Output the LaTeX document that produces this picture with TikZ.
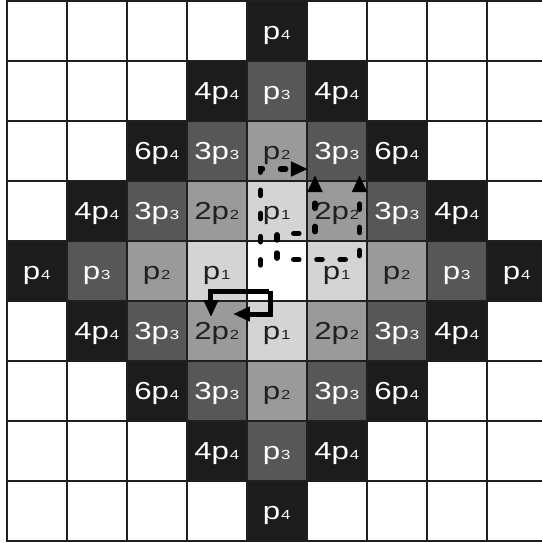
\documentclass[tikz,border=0pt]{standalone}
\usepackage{fontspec}
\setmainfont{Liberation Sans}
\usetikzlibrary{arrows.meta}
\definecolor{gridc}{HTML}{231F20}
\definecolor{cfour}{HTML}{1C1C1C}
\definecolor{cthree}{HTML}{575757}
\definecolor{ctwo}{HTML}{9A9A9A}
\definecolor{cone}{HTML}{D4D4D4}
\newcommand\lbl[2]{\scalebox{1.27}[1]{#1p\kern0.3pt{\fontsize{6.6}{6.6}\selectfont #2}}}
\begin{document}
\begin{tikzpicture}[x=0.5pt,y=-0.5pt,
  cell/.style={draw=gridc,line width=1.1pt,minimum size=30pt,inner sep=0pt,
    font=\fontsize{12.3}{12.3}\selectfont,text height=8.8pt,text depth=0pt},
  blank/.style={cell,fill=white},
  dfour/.style={cell,fill=cfour,text=white},
  dthree/.style={cell,fill=cthree,text=white},
  dtwo/.style={cell,fill=ctwo,text=gridc},
  done/.style={cell,fill=cone,text=gridc},
  tip/.style={-{Triangle[length=8.5pt,width=7pt]}},
  dashpath/.style={tip,line width=2.7pt,line cap=round,dash pattern=on 2.6pt off 9pt},
  solidpath/.style={tip,line width=2.5pt}]
\useasboundingbox (0,0) rectangle (542,543);
\begin{scope}
\clip (0,0) rectangle (542,543);
% white grid
\foreach \i in {0,...,8}{
  \foreach \j in {0,...,8}{
    \node[blank] (w\i-\j) at (36.7+60*\i,30.7+60*\j) {};
  }
}
% shaded cells
\foreach \i/\j/\s/\c/\n in {
  4/0/dfour//4,
  3/1/dfour/4/4, 4/1/dthree//3, 5/1/dfour/4/4,
  2/2/dfour/6/4, 3/2/dthree/3/3, 4/2/dtwo//2, 5/2/dthree/3/3, 6/2/dfour/6/4,
  1/3/dfour/4/4, 2/3/dthree/3/3, 3/3/dtwo/2/2, 4/3/done//1, 5/3/dtwo/2/2, 6/3/dthree/3/3, 7/3/dfour/4/4,
  0/4/dfour//4, 1/4/dthree//3, 2/4/dtwo//2, 3/4/done//1, 5/4/done//1, 6/4/dtwo//2, 7/4/dthree//3, 8/4/dfour//4,
  1/5/dfour/4/4, 2/5/dthree/3/3, 3/5/dtwo/2/2, 4/5/done//1, 5/5/dtwo/2/2, 6/5/dthree/3/3, 7/5/dfour/4/4,
  2/6/dfour/6/4, 3/6/dthree/3/3, 4/6/dtwo//2, 5/6/dthree/3/3, 6/6/dfour/6/4,
  3/7/dfour/4/4, 4/7/dthree//3, 5/7/dfour/4/4,
  4/8/dfour//4}{
  \node[\s] (c\i-\j) at (36.7+60*\i,30.7+60*\j) {\lbl{\c}{\n}};
}
\end{scope}
% path points
\coordinate (a0) at (260.5,265);
\coordinate (a1) at (260.5,169);
\coordinate (a2) at (308,169);
\coordinate (b0) at (277,240);
\coordinate (b1) at (277,233.5);
\coordinate (b2) at (315,233.5);
\coordinate (b3) at (315,175);
\coordinate (e0) at (277,253);
\coordinate (e1) at (277,259.5);
\coordinate (e2) at (359.5,259.5);
\coordinate (e3) at (359.5,175);
\coordinate (s0) at (269,291.5);
\coordinate (s1) at (211,291.5);
\coordinate (s2) at (211,317);
\coordinate (t0) at (270.5,290.5);
\coordinate (t1) at (270.5,314);
\coordinate (t2) at (233,314);
\draw[dashpath] (a0) -- (a1) -- (a2);
\draw[dashpath] (b0) -- (b1) -- (b2) -- (b3);
\draw[dashpath] (e0) -- (e1) -- (e2) -- (e3);
\draw[solidpath] (s0) -- (s1) -- (s2);
\draw[solidpath] (t0) -- (t1) -- (t2);
\end{tikzpicture}
\end{document}
